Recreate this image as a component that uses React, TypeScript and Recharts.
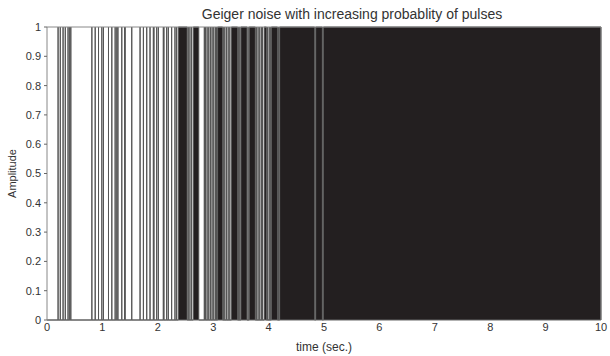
import React from 'react';
import { AreaChart, Area, XAxis, YAxis } from 'recharts';

// Single pulse times (sec.)
const pulseTimes: number[] = [
  0.20, 0.24, 0.29, 0.33, 0.38, 0.41, 0.43,
  0.81, 0.87, 0.93, 0.99, 1.02,
  1.11, 1.17, 1.23, 1.26, 1.28, 1.35, 1.40, 1.41,
  1.53,
  1.68, 1.74, 1.80, 1.86, 1.92, 1.93, 1.98, 2.01,
  2.10, 2.11, 2.16, 2.19, 2.25, 2.31, 2.34,
  2.55, 2.58, 2.61,
  2.84, 2.86, 2.89, 2.92, 2.95, 2.98, 3.01, 3.04, 3.06,
  3.19, 3.21, 3.24, 3.27, 3.30,
  3.46, 3.48, 3.63,
  3.78, 3.81, 3.84, 3.87, 3.89,
  3.98, 4.01, 4.03, 4.18,
];

// Intervals where pulses are so dense that the signal is saturated [start, end]
const burstStarts: number[] = [2.37, 2.64, 3.08, 3.33, 3.50, 3.65, 3.92, 4.05, 4.20, 4.85, 4.99];
const burstEnds: number[] = [2.53, 2.74, 3.17, 3.44, 3.61, 3.76, 3.96, 4.16, 4.83, 4.97, 10];

const xTicks: number[] = [0, 1, 2, 3, 4, 5, 6, 7, 8, 9, 10];
const yTicks: number[] = [0, 0.1, 0.2, 0.3, 0.4, 0.5, 0.6, 0.7, 0.8, 0.9, 1];

type Ev = { s: number; e: number | null };
const events: Ev[] = [
  ...pulseTimes.map((t) => ({ s: t, e: null })),
  ...burstStarts.map((s, i) => ({ s, e: burstEnds[i] })),
].sort((a, b) => a.s - b.s);

const data: { t: number; y: number }[] = [{ t: 0, y: 0 }];
events.forEach((ev) => {
  if (ev.e === null) {
    data.push({ t: ev.s, y: 0 }, { t: ev.s, y: 1 }, { t: ev.s, y: 0 });
  } else {
    data.push({ t: ev.s, y: 0 }, { t: ev.s, y: 1 }, { t: ev.e, y: 1 }, { t: ev.e, y: 0 });
  }
});

const FONT = '"Liberation Sans", Arial, Helvetica, sans-serif';
const tickStyle = { fontSize: 11, fill: '#333', fontFamily: FONT };

export default function App() {
  return (
    <div style={{ position: 'absolute', left: 0, top: 0, width: 610, height: 356, background: '#fff' }}>
      <AreaChart width={610} height={356} data={data} margin={{ top: 0, right: 0, bottom: 0, left: 0 }}>
        <XAxis
          xAxisId="top"
          orientation="top"
          type="number"
          dataKey="t"
          domain={[0, 10]}
          height={27}
          tick={false}
          tickLine={false}
          axisLine={{ stroke: '#888' }}
          label={{ value: 'Geiger noise with increasing probablity of pulses', position: 'center', dx: 28, dy: 1, style: { fontSize: 14, fill: '#333', fontFamily: FONT } }}
        />
        <YAxis
          yAxisId="right"
          orientation="right"
          type="number"
          domain={[0, 1]}
          width={9}
          tick={false}
          tickLine={false}
          axisLine={{ stroke: '#888' }}
        />
        <XAxis
          type="number"
          dataKey="t"
          domain={[0, 10]}
          ticks={xTicks}
          interval={0}
          height={36}
          tickSize={0}
          tickMargin={3}
          tick={tickStyle}
          axisLine={{ stroke: '#666' }}
          label={{ value: 'time (sec.)', position: 'insideBottom', offset: 5, style: { fontSize: 12, fill: '#333', fontFamily: FONT } }}
        />
        <YAxis
          type="number"
          domain={[0, 1]}
          ticks={yTicks}
          interval={0}
          width={47}
          tickSize={3}
          tickMargin={3}
          tick={tickStyle}
          tickLine={{ stroke: '#666' }}
          axisLine={{ stroke: '#888' }}
          label={{ value: 'Amplitude', angle: -90, position: 'insideLeft', offset: 12, style: { textAnchor: 'middle', fontSize: 11, fill: '#333', fontFamily: FONT } }}
        />
        <Area
          type="linear"
          dataKey="y"
          stroke="#555"
          strokeWidth={1}
          fill="#231f20"
          fillOpacity={1}
          isAnimationActive={false}
          dot={false}
          activeDot={false}
        />
      </AreaChart>
    </div>
  );
}
